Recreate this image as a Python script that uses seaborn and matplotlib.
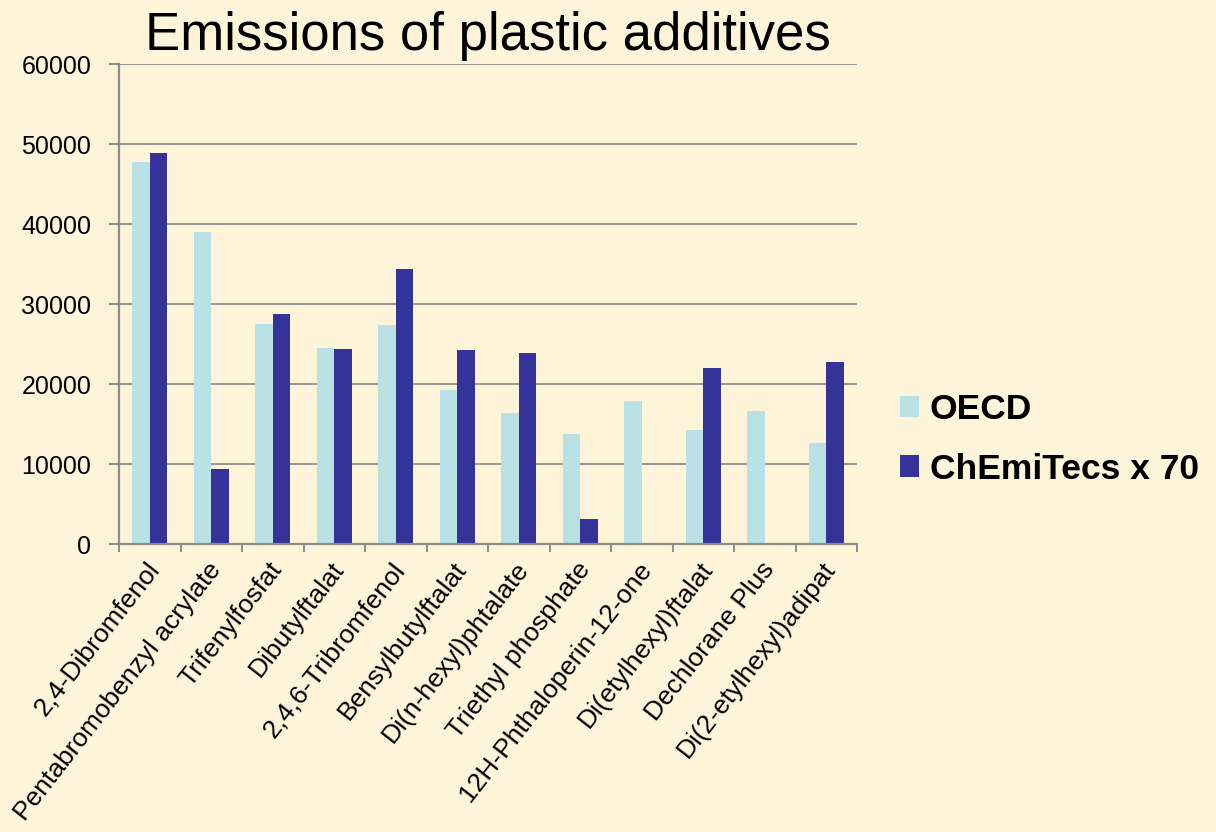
import numpy as np
import pandas as pd
import matplotlib
matplotlib.use("Agg")
import matplotlib.pyplot as plt
from matplotlib.transforms import ScaledTranslation
from matplotlib.ticker import FixedLocator
import seaborn as sns

categories = [
    "2,4-Dibromfenol",
    "Pentabromobenzyl acrylate",
    "Trifenylfosfat",
    "Dibutylftalat",
    "2,4,6-Tribromfenol",
    "Bensylbutylftalat",
    "Di(n-hexyl)phtalate",
    "Triethyl phosphate",
    "12H-Phthaloperin-12-one",
    "Di(etylhexyl)ftalat",
    "Dechlorane Plus",
    "Di(2-etylhexyl)adipat",
]
oecd = [47800, 39000, 27500, 24500, 27400, 19250, 16400, 13800, 17900, 14300, 16600, 12700]
chemitecs_x70 = [48900, 9400, 28750, 24400, 34400, 24250, 23900, 3200, None, 22100, None, 22800]
series_names = ["OECD", "ChEmiTecs x 70"]
y_ticks = [0, 10000, 20000, 30000, 40000, 50000, 60000]

BG = "#FEF4D9"
GRID = "#8C8C8C"
COLORS = ["#B9E0E4", "#333399"]

rows = []
for cat, a, b in zip(categories, oecd, chemitecs_x70):
    rows.append({"substance": cat, "series": series_names[0], "emission": a})
    if b is not None:
        rows.append({"substance": cat, "series": series_names[1], "emission": b})
df = pd.DataFrame(rows)

sns.set_theme(style="white")
plt.rcParams["font.family"] = ["Liberation Sans", "DejaVu Sans"]
plt.rcParams["text.color"] = "black"
plt.rcParams["xtick.labelcolor"] = "black"
plt.rcParams["ytick.labelcolor"] = "black"

fig = plt.figure(figsize=(12.16, 8.32), dpi=100, facecolor=BG)
ax = fig.add_axes([0.0979, 0.3458, 0.6069, 0.5769])
ax.set_facecolor(BG)

sns.barplot(
    data=df, x="substance", y="emission", hue="series",
    order=categories, hue_order=series_names, palette=COLORS,
    width=0.575, gap=0, errorbar=None, linewidth=0, saturation=1, ax=ax,
)

ax.set_ylim(0, 60000)
ax.set_xlim(-0.5, len(categories) - 0.5)
ax.set_yticks(y_ticks)
ax.set_yticklabels([str(v) for v in y_ticks], fontsize=18, color="black")
ax.yaxis.grid(True, color=GRID, linewidth=1.3)
ax.set_axisbelow(True)
ax.set_xlabel("")
ax.set_ylabel("")

for side in ["top", "right"]:
    ax.spines[side].set_visible(False)
for side in ["left", "bottom"]:
    ax.spines[side].set_color(GRID)
    ax.spines[side].set_linewidth(1.6)

# boundaries between categories carry the tick marks
ax.xaxis.set_minor_locator(FixedLocator(np.arange(-0.5, len(categories), 1.0)))
ax.tick_params(axis="x", which="minor", length=6, width=1.4, color=GRID, bottom=True)
ax.tick_params(axis="x", which="major", length=0, pad=15)
ax.tick_params(axis="y", which="major", length=7, width=1.4, color=GRID, left=True, pad=13)

ax.set_xticks(range(len(categories)))
ax.set_xticklabels(categories, rotation=52, ha="right", va="center",
                   rotation_mode="anchor", fontsize=19, color="black")
offset = ScaledTranslation(5 / 100, 0, fig.dpi_scale_trans)
for lbl in ax.xaxis.get_majorticklabels():
    lbl.set_transform(lbl.get_transform() + offset)

ax.set_title("Emissions of plastic additives", fontsize=38, pad=10, color="black")

handles, labels = ax.get_legend_handles_labels()
ax.legend(
    handles, labels, loc="center left", bbox_to_anchor=(0.740, 0.472),
    bbox_transform=fig.transFigure, frameon=False, borderpad=0, borderaxespad=0,
    prop={"weight": "bold", "size": 25.5}, handlelength=0.55, handleheight=0.55,
    handletextpad=0.3, labelspacing=0.75, labelcolor="black",
)

fig.savefig("out.png", dpi=100, facecolor=BG)
